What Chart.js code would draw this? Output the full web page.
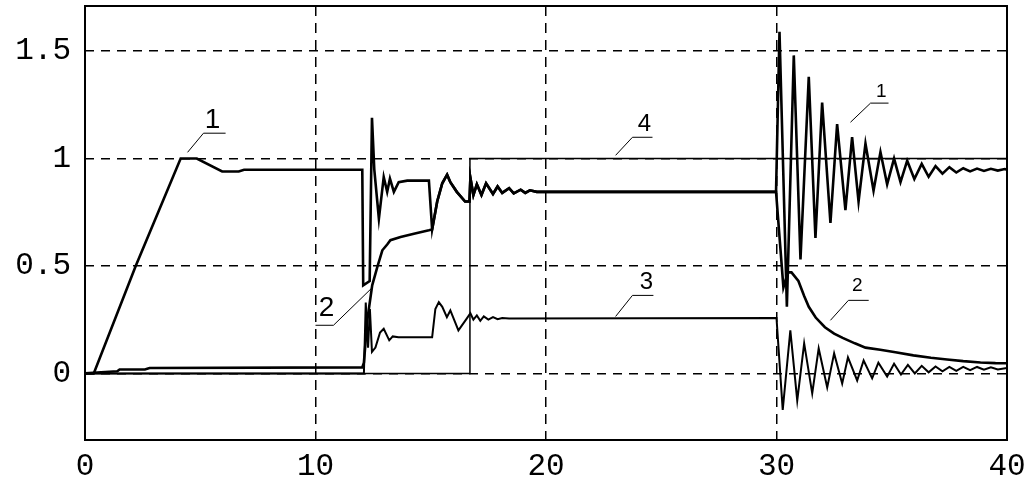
<!DOCTYPE html>
<html>
<head>
<meta charset="utf-8">
<script src="https://cdn.jsdelivr.net/npm/chart.js@4.4.1/dist/chart.umd.min.js"></script>
<style>
  html, body { margin: 0; padding: 0; background: #fff; }
</style>
</head>
<body>
<canvas id="chart" width="1028" height="488"></canvas>
<script>
// ===== Data (x, y) =====
const xTicks = [0, 10, 20, 30, 40];
const yTicks = [0, 0.5, 1, 1.5];

const curve1 = [
  [0, 0], [0.38, 0], [2.2, 0.5], [4.15, 1.0], [4.85, 1.0],
  [5.95, 0.94], [6.67, 0.94], [6.9, 0.948], [12.03, 0.948], [12.07, 0.41], [12.35, 0.43],
  [12.45, 1.19], [12.55, 0.95], [12.75, 0.72], [12.96, 0.914], [13.11, 0.845], [13.23, 0.907],
  [13.4, 0.845], [13.61, 0.89], [13.98, 0.897], [14.92, 0.897], [15.06, 0.67], [15.28, 0.8],
  [15.5, 0.885], [15.71, 0.925], [15.85, 0.89], [16.13, 0.845], [16.49, 0.8], [16.68, 0.8],
  [16.72, 0.91], [16.85, 0.83], [17.0, 0.88], [17.2, 0.83], [17.4, 0.885], [17.7, 0.835],
  [17.9, 0.87], [18.1, 0.84], [18.4, 0.862], [18.6, 0.838], [18.9, 0.855], [19.1, 0.84],
  [19.3, 0.852], [19.6, 0.845], [29.98, 0.845], [30.13, 1.59], [30.45, 0.31], [30.75, 1.48],
  [31.04, 0.53], [31.4, 1.38], [31.69, 0.63], [31.98, 1.26], [32.34, 0.7], [32.63, 1.16],
  [32.99, 0.76], [33.28, 1.1], [33.56, 0.8], [33.86, 1.07], [34.21, 0.85], [34.51, 1.03],
  [34.8, 0.88], [35.1, 1.0], [35.38, 0.89], [35.67, 0.99], [35.98, 0.905], [36.3, 0.975],
  [36.6, 0.915], [36.9, 0.965], [37.2, 0.93], [37.5, 0.96], [37.8, 0.935], [38.1, 0.955],
  [38.4, 0.94], [38.7, 0.953], [39.0, 0.942], [39.3, 0.952], [39.6, 0.944], [39.9, 0.951],
  [40, 0.948]
];

const curve2 = [
  [0, 0], [0.7, 0.005], [1.4, 0.01], [1.5, 0.018], [2.6, 0.018], [2.8, 0.025], [12.03, 0.028],
  [12.1, 0.05], [12.25, 0.25], [12.46, 0.41], [12.68, 0.495], [12.9, 0.573], [13.11, 0.6],
  [13.25, 0.62], [13.69, 0.635], [14.27, 0.65], [14.92, 0.666], [15.06, 0.67], [15.28, 0.8],
  [15.5, 0.885], [15.71, 0.925], [15.85, 0.89], [16.13, 0.845], [16.49, 0.8], [16.68, 0.8],
  [16.72, 0.91], [16.85, 0.83], [17.0, 0.88], [17.2, 0.83], [17.4, 0.885], [17.7, 0.835],
  [17.9, 0.87], [18.1, 0.84], [18.4, 0.862], [18.6, 0.838], [18.9, 0.855], [19.1, 0.84],
  [19.3, 0.852], [19.6, 0.845], [29.98, 0.845], [30.3, 0.4], [30.5, 0.47], [30.65, 0.47],
  [30.95, 0.43], [31.2, 0.36], [31.4, 0.31], [31.7, 0.26], [32.1, 0.215], [32.5, 0.185],
  [32.87, 0.165], [33.4, 0.14], [33.86, 0.12], [34.5, 0.11], [35.16, 0.098], [35.94, 0.084],
  [36.7, 0.073], [37.4, 0.065], [38.1, 0.057], [38.85, 0.051], [39.5, 0.048], [40, 0.047]
];

const curve3 = [
  [0, 0], [12.1, 0], [12.18, 0.33], [12.28, 0.12], [12.36, 0.3], [12.45, 0.1], [12.6, 0.12],
  [12.8, 0.19], [12.96, 0.208], [13.2, 0.154], [13.35, 0.172], [13.6, 0.168], [15.06, 0.168],
  [15.2, 0.3], [15.35, 0.332], [15.5, 0.31], [15.7, 0.262], [15.85, 0.293], [16.2, 0.2],
  [16.56, 0.255], [16.72, 0.28], [16.85, 0.25], [17.0, 0.27], [17.15, 0.245], [17.3, 0.265],
  [17.5, 0.25], [17.7, 0.262], [17.9, 0.252], [18.1, 0.258], [18.4, 0.255], [30.0, 0.258],
  [30.27, -0.17], [30.6, 0.2], [30.9, -0.126], [31.2, 0.14], [31.55, -0.093], [31.83, 0.116],
  [32.2, -0.065], [32.5, 0.093], [32.85, -0.047], [33.1, 0.075], [33.5, -0.033], [33.78, 0.06],
  [34.15, -0.023], [34.42, 0.05], [34.8, -0.015], [35.1, 0.045], [35.4, -0.005], [35.7, 0.04],
  [36.0, 0.0], [36.3, 0.035], [36.6, 0.005], [36.9, 0.032], [37.2, 0.01], [37.5, 0.03],
  [37.8, 0.012], [38.1, 0.03], [38.4, 0.015], [38.7, 0.03], [39.0, 0.017], [39.3, 0.028],
  [39.6, 0.018], [40, 0.025]
];

const curve4 = [[0, 0], [16.7, 0], [16.7, 1.0], [40, 1.0]];

// curve labels: text, anchor x, anchor y
const labelText = ['1', '2', '4', '3', '1', '2'];
const labelX = [5.53, 10.48, 24.27, 24.36, 34.55, 33.51];
const labelY = [1.18, 0.303, 1.16, 0.424, 1.31, 0.41];
// leader lines: underline end, underline start, tip
const leaders = [
  [[6.1, 1.118], [5.14, 1.118], [4.45, 1.029]],
  [[10.0, 0.224], [10.78, 0.224], [12.47, 0.4]],
  [[24.62, 1.099], [23.75, 1.099], [23.02, 1.015]],
  [[24.66, 0.363], [23.75, 0.363], [23.02, 0.265]],
  [[34.86, 1.258], [34.08, 1.258], [33.21, 1.169]],
  [[34.0, 0.34], [33.12, 0.34], [32.34, 0.247]]
];
const labelSizes = [28, 28, 24, 24, 19, 19];

// ===== Helpers =====
const pts = arr => arr.map(p => ({ x: p[0], y: p[1] }));

function curveSet(arr, width) {
  return {
    data: pts(arr),
    borderColor: '#000',
    borderWidth: width,
    pointRadius: 0,
    tension: 0,
    fill: false
  };
}

const frame = {
  id: 'frame',
  afterDraw(chart) {
    const { ctx, chartArea: a } = chart;
    ctx.save();
    ctx.strokeStyle = '#000';
    ctx.lineWidth = 2;
    ctx.strokeRect(a.left, a.top, a.right - a.left, a.bottom - a.top);
    ctx.restore();
  }
};

const curveLabels = {
  id: 'curveLabels',
  afterDatasetsDraw(chart) {
    const { ctx, scales } = chart;
    ctx.save();
    ctx.fillStyle = '#000';
    ctx.textAlign = 'center';
    ctx.textBaseline = 'middle';
    labelText.forEach((t, i) => {
      ctx.font = labelSizes[i] + 'px "Liberation Sans", Arial, sans-serif';
      ctx.fillText(t, scales.x.getPixelForValue(labelX[i]), scales.y.getPixelForValue(labelY[i]));
    });
    ctx.restore();
  }
};

const datasets = [
  curveSet(curve4, 1.5),
  curveSet(curve3, 2),
  curveSet(curve2, 2.6),
  curveSet(curve1, 2.6),
  ...leaders.map(l => curveSet(l, 1))
];

const tickFont = { family: '"Liberation Mono", "DejaVu Sans Mono", monospace', size: 31 };

new Chart(document.getElementById('chart'), {
  type: 'line',
  data: { datasets },
  options: {
    responsive: false,
    animation: false,
    layout: { padding: { top: 6, right: 21, left: 0, bottom: 0 } },
    plugins: { legend: { display: false }, tooltip: { enabled: false } },
    scales: {
      x: {
        type: 'linear',
        min: 0,
        max: 40,
        afterBuildTicks: s => { s.ticks = xTicks.map(v => ({ value: v })); },
        afterFit: s => { s.height = 48; s.paddingLeft = 0; s.paddingRight = 0; },
        grid: { color: '#000', lineWidth: 1.5, drawTicks: false },
        border: { display: false, dash: [10, 7] },
        ticks: {
          color: '#000',
          padding: 8,
          maxRotation: 0,
          font: tickFont,
          callback: v => String(v)
        }
      },
      y: {
        type: 'linear',
        min: -0.31,
        max: 1.71,
        afterBuildTicks: s => { s.ticks = yTicks.map(v => ({ value: v })); },
        afterFit: s => { s.width = 85; s.paddingTop = 0; s.paddingBottom = 0; },
        grid: { color: '#000', lineWidth: 1.5, drawTicks: false },
        border: { display: false, dash: [9, 7] },
        ticks: {
          color: '#000',
          padding: 14,
          font: tickFont,
          callback: v => String(v)
        }
      }
    }
  },
  plugins: [frame, curveLabels]
});
</script>
</body>
</html>
